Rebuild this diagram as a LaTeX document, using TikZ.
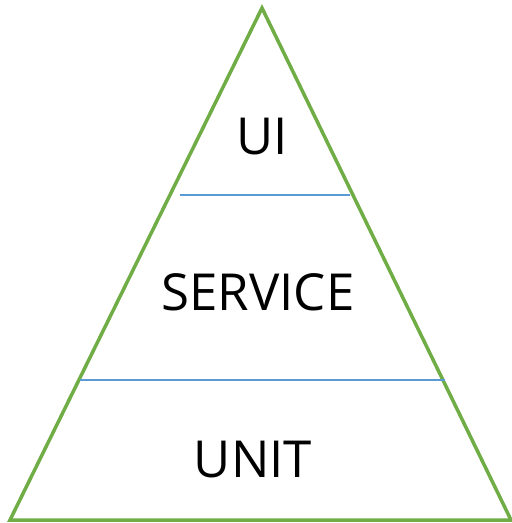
\documentclass[tikz,border=0pt]{standalone}
\usepackage{fontspec}
\setmainfont{Open Sans}
\usepackage{tikz}
\definecolor{pyrgreen}{HTML}{70AD47}
\definecolor{pyrblue}{HTML}{5B9BD5}
\tikzset{layer/.style={font=\fontsize{51}{53}\selectfont,inner sep=0pt}}

\begin{document}
\begin{tikzpicture}[x=1pt,y=-1pt]
\useasboundingbox (0,0) rectangle (512,523);
\coordinate (top) at (262,8);
\coordinate (left) at (10,520);
\coordinate (right) at (511,520);
\draw[pyrgreen,line width=3.5pt,line join=miter] (top) -- (left) -- (right) -- cycle;

\coordinate (ua) at (180,195);
\coordinate (ub) at (350,195);
\coordinate (la) at (80,380);
\coordinate (lb) at (445,380);
\draw[pyrblue,line width=2pt] (ua) -- (ub);
\draw[pyrblue,line width=2pt] (la) -- (lb);

\node[layer] (ui) at (262,137) {UI};
\node[layer] (service) at (258,292) {SERVICE};
\node[layer] (unit) at (253,460) {UNIT};
\end{tikzpicture}
\end{document}
